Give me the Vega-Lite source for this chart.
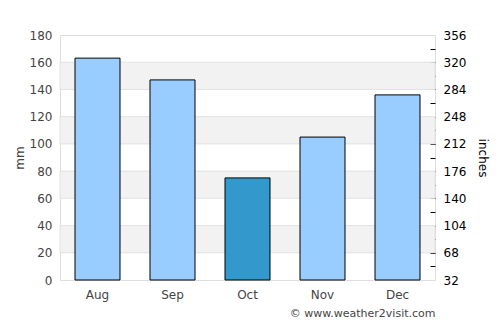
{
  "$schema": "https://vega.github.io/schema/vega-lite/v6.json",
  "width": 375,
  "height": 245,
  "autosize": "none",
  "padding": {"left": 60, "top": 35, "right": 65, "bottom": 45},
  "background": "white",
  "config": {
    "font": "DejaVu Sans",
    "view": {"stroke": "#dddddd"}
  },
  "resolve": {"scale": {"y": "independent"}, "axis": {"y": "independent"}},
  "layer": [
    {
      "data": {"values": [
        {"lo": 20, "hi": 40},
        {"lo": 60, "hi": 80},
        {"lo": 100, "hi": 120},
        {"lo": 140, "hi": 160}
      ]},
      "mark": {"type": "rect", "fill": "#f2f2f2", "stroke": "#e2e2e2", "strokeWidth": 1},
      "encoding": {
        "y": {
          "field": "lo", "type": "quantitative",
          "scale": {"domain": [0, 180], "nice": false},
          "axis": {
            "orient": "left", "title": "mm", "values": [0, 20, 40, 60, 80, 100, 120, 140, 160, 180],
            "grid": false, "domain": false, "ticks": false, "tickSize": 0,
            "labelPadding": 8, "labelFontSize": 12, "labelColor": "#444444",
            "titleFontSize": 12, "titleFontWeight": "normal", "titleColor": "#444444", "titlePadding": 3
          }
        },
        "y2": {"field": "hi"}
      }
    },
    {
      "data": {"values": [
        {"month": "Aug", "mm": 163, "current": "no"},
        {"month": "Sep", "mm": 147, "current": "no"},
        {"month": "Oct", "mm": 75, "current": "yes"},
        {"month": "Nov", "mm": 105, "current": "no"},
        {"month": "Dec", "mm": 136, "current": "no"}
      ]},
      "mark": {"type": "bar", "stroke": "#000000", "strokeWidth": 1},
      "encoding": {
        "x": {
          "field": "month", "type": "nominal", "sort": null,
          "scale": {"paddingInner": 0.4, "paddingOuter": 0.2},
          "axis": {
            "labelAngle": 0, "domain": false, "ticks": false, "labelPadding": 9,
            "labelFontSize": 12, "labelColor": "#444444",
            "title": "© www.weather2visit.com", "titleAnchor": "end", "titleAlign": "right",
            "titleFontSize": 11, "titleFontWeight": "normal", "titleColor": "#444444", "titlePadding": 7
          }
        },
        "y": {"field": "mm", "type": "quantitative", "scale": {"domain": [0, 180], "nice": false}, "axis": null},
        "fill": {
          "field": "current", "type": "nominal",
          "scale": {"domain": ["no", "yes"], "range": ["#99ccff", "#3399cc"]},
          "legend": null
        }
      }
    },
    {
      "data": {"values": [{"v": 32}, {"v": 356}]},
      "mark": {"type": "point", "opacity": 0},
      "encoding": {
        "y": {
          "field": "v", "type": "quantitative",
          "scale": {"domain": [32, 356], "nice": false, "zero": false},
          "axis": {
            "orient": "right", "title": "inches", "offset": -5,
            "values": [32, 50, 68, 86, 104, 122, 140, 158, 176, 194, 212, 230, 248, 266, 284, 302, 320, 338, 356],
            "labelExpr": "(datum.value - 32) % 36 == 0 ? datum.label : ''",
            "grid": false, "domain": false,
            "tickSize": 5, "tickColor": "#000000",
            "tickOpacity": {"condition": {"test": "datum.value == 32 || datum.value == 356", "value": 0}, "value": 1},
            "labelPadding": 8, "labelFontSize": 12, "labelColor": "#000000",
            "titleFontSize": 12, "titleFontWeight": "normal", "titleColor": "#000000", "titlePadding": 10
          }
        }
      }
    }
  ]
}
